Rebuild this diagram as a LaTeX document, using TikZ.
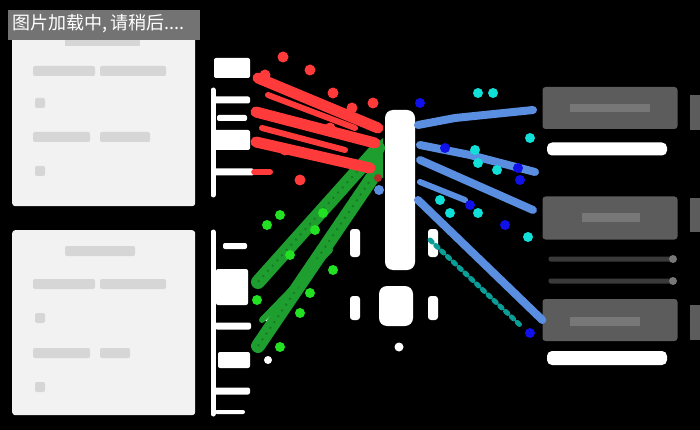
\documentclass[tikz,border=0pt]{standalone}
\usepackage{fontspec}
\newfontfamily\cjkfont{Noto Sans CJK SC}
\definecolor{panel}{HTML}{F2F2F2}
\definecolor{ghost}{HTML}{D6D6D6}
\definecolor{redl}{HTML}{FF3A3A}
\definecolor{greenl}{HTML}{1E9E2E}
\definecolor{greend}{HTML}{22E022}
\definecolor{bluel}{HTML}{5A8EE0}
\definecolor{cyanl}{HTML}{10E0D8}
\definecolor{blued}{HTML}{1010E8}
\definecolor{boxg}{HTML}{5C5C5C}
\definecolor{boxt}{HTML}{777777}
\definecolor{thin}{HTML}{3A3A3A}
\tikzset{
  x=1pt,y=-1pt,
  panelbox/.style={fill=panel,draw=none,rounded corners=3pt},
  ghosttext/.style={fill=ghost,draw=none,rounded corners=2pt},
  portw/.style={fill=white,draw=none,rounded corners=2pt},
  wline/.style={draw=white,line width=5pt,line cap=round},
  redw/.style={draw=redl,line width=11pt,line cap=round},
  redn/.style={draw=redl,line width=6pt,line cap=round},
  greenw/.style={draw=greenl,line width=14pt,line cap=round},
  greens/.style={draw=greenl!80!black,line width=2pt,dash pattern=on 2pt off 5pt},
  bluew/.style={draw=bluel,line width=8pt,line cap=round},
  cyand/.style={draw=cyanl!70!black,line width=5pt,line cap=round,dash pattern=on 3pt off 5pt},
  dotr/.style={fill=redl,draw=none},
  dotg/.style={fill=greend,draw=none},
  dotc/.style={fill=cyanl,draw=none},
  dotb/.style={fill=blued,draw=none},
  grayblock/.style={fill=boxg,draw=none,rounded corners=3pt},
  whitebar/.style={fill=white,draw=none,rounded corners=5pt},
  thinbar/.style={fill=thin,draw=none,rounded corners=2pt},
}
\begin{document}
\begin{tikzpicture}
\fill[black] (0,0) rectangle (700,430);
\useasboundingbox (0,0) rectangle (700,430);

% ---------- left panels ----------
\node[panelbox,minimum width=183pt,minimum height=178pt,anchor=north west,inner sep=0] (p1) at (12,28) {};
\fill[ghost] (65,38) rectangle (140,46);
\fill[ghosttext] (33,66) rectangle (95,76);
\fill[ghosttext] (100,66) rectangle (166,76);
\fill[ghosttext] (35,98) rectangle (45,108);
\fill[ghosttext] (33,132) rectangle (90,142);
\fill[ghosttext] (100,132) rectangle (150,142);
\fill[ghosttext] (35,166) rectangle (45,176);

\node[panelbox,minimum width=183pt,minimum height=185pt,anchor=north west,inner sep=0] (p2) at (12,230) {};
\fill[ghosttext] (65,246) rectangle (135,256);
\fill[ghosttext] (33,279) rectangle (95,289);
\fill[ghosttext] (100,279) rectangle (166,289);
\fill[ghosttext] (35,313) rectangle (45,323);
\fill[ghosttext] (33,348) rectangle (90,358);
\fill[ghosttext] (100,348) rectangle (130,358);
\fill[ghosttext] (35,382) rectangle (45,392);

% ---------- port stubs ----------
\coordinate (t0) at (213,90);
\coordinate (t1) at (213,195);
\draw[wline] (t0) -- (t1);
\node[portw,minimum width=36pt,minimum height=20pt,inner sep=0] (a1) at (232,68) {};
\node[portw,minimum width=36pt,minimum height=7pt,inner sep=0] (a2) at (232,100) {};
\node[portw,minimum width=36pt,minimum height=20pt,inner sep=0] (a3) at (232,140) {};
\node[portw,minimum width=40pt,minimum height=7pt,inner sep=0] (a4) at (234,172) {};
\node[portw,minimum width=30pt,minimum height=6pt,inner sep=0] (a5) at (232,118) {};

\coordinate (b0) at (213,232);
\coordinate (b1) at (213,414);
\draw[wline] (b0) -- (b1);
\node[portw,minimum width=24pt,minimum height=6pt,inner sep=0] (c1) at (235,246) {};
\node[portw,minimum width=32pt,minimum height=36pt,inner sep=0] (c2) at (232,287) {};
\node[portw,minimum width=36pt,minimum height=7pt,inner sep=0] (c3) at (233,326) {};
\node[portw,minimum width=32pt,minimum height=16pt,inner sep=0] (c4) at (234,360) {};
\node[portw,minimum width=36pt,minimum height=7pt,inner sep=0] (c5) at (232,391) {};
\node[portw,minimum width=30pt,minimum height=4pt,inner sep=0] (c6) at (230,412) {};

% ---------- central column ----------
\node[fill=white,rounded corners=8pt,minimum width=30pt,minimum height=160pt,inner sep=0] (col) at (400,190) {};
\node[fill=white,rounded corners=8pt,minimum width=34pt,minimum height=40pt,inner sep=0] (colb) at (396,306) {};
\node[fill=white,circle,minimum size=9pt,inner sep=0] (cold) at (399,347) {};
\node[fill=white,rounded corners=3pt,minimum width=10pt,minimum height=28pt,inner sep=0] (l1) at (355,243) {};
\node[fill=white,rounded corners=3pt,minimum width=10pt,minimum height=24pt,inner sep=0] (l2) at (355,308) {};
\node[fill=white,rounded corners=3pt,minimum width=10pt,minimum height=28pt,inner sep=0] (r1) at (433,243) {};
\node[fill=white,rounded corners=3pt,minimum width=10pt,minimum height=24pt,inner sep=0] (r2) at (433,308) {};
\node[fill=white,circle,minimum size=8pt,inner sep=0] (m1) at (268,318) {};
\node[fill=white,circle,minimum size=8pt,inner sep=0] (m2) at (268,360) {};

% ---------- green connectors ----------
\coordinate (g1s) at (258,282);
\coordinate (g1e) at (378,148);
\coordinate (g2s) at (258,346);
\coordinate (g2e) at (372,178);
\draw[greenw] (g1s) -- (g1e);
\draw[greenw] (g2s) -- (g2e);
\draw[greens] (g1s) -- (g1e);
\draw[greens] (g2s) -- (g2e);
\draw[greenw,line width=6pt] (262,320) -- (330,250);
\fill[greenl] (352,168) -- (383,138) -- (383,178) -- cycle;
\foreach \p in {(267,225),(280,215),(323,213),(333,270),(310,293),(280,347),(300,313),(257,300),(315,230),(290,255)}
  \fill[dotg] \p circle (5pt);

% ---------- red connectors ----------
\coordinate (r1s) at (258,78);
\coordinate (r1e) at (378,128);
\coordinate (r2s) at (256,112);
\coordinate (r2e) at (375,143);
\coordinate (r3s) at (256,142);
\coordinate (r3e) at (370,168);
\draw[redw] (r1s) -- (r1e);
\draw[redw] (r2s) -- (r2e);
\draw[redw] (r3s) -- (r3e);
\draw[redn] (268,95) -- (355,128);
\draw[redn] (262,128) -- (345,150);
\draw[redn] (a4.east) -- (270,172);
\foreach \p in {(283,57),(310,70),(333,93),(373,103),(300,180),(265,75),(330,128),(285,150),(352,108)}
  \fill[dotr] \p circle (5.5pt);
\fill[redl!70!black] (378,178) circle (4pt);
\fill[bluel] (379,190) circle (5pt);

% ---------- right column ----------
\fill[thin] (548,68) rectangle (676,72);
\node[grayblock,minimum width=135pt,minimum height=42pt,inner sep=0] (k1) at (610,108) {};
\fill[boxt] (570,104) rectangle (650,112);
\node[whitebar,minimum width=120pt,minimum height=13pt,inner sep=0] (w1) at (607,149) {};
\node[grayblock,minimum width=135pt,minimum height=43pt,inner sep=0] (k2) at (610,218) {};
\fill[boxt] (582,213) rectangle (640,222);
\node[thinbar,minimum width=127pt,minimum height=5pt,inner sep=0] (s1) at (612,259) {};
\fill[boxt] (673,259) circle (4pt);
\node[thinbar,minimum width=127pt,minimum height=5pt,inner sep=0] (s2) at (612,281) {};
\fill[boxt] (673,281) circle (4pt);
\node[grayblock,minimum width=135pt,minimum height=42pt,inner sep=0] (k3) at (610,320) {};
\fill[boxt] (570,317) rectangle (640,326);
\node[whitebar,minimum width=120pt,minimum height=14pt,inner sep=0] (w2) at (607,358) {};
\fill[thin] (548,383) rectangle (676,386);
\fill[boxg] (690,95) rectangle (700,130);
\fill[boxg] (690,198) rectangle (700,232);
\fill[boxg] (690,305) rectangle (700,340);

% ---------- blue / cyan connectors ----------
\coordinate (u0) at (418,125);
\draw[bluew] (u0) -- (455,118) -- (533,110);
\draw[bluew] (420,160) -- (533,210);
\draw[bluew] (420,145) -- (470,155) -- (535,172);
\draw[bluew] (418,200) -- (k3.west);
\draw[bluew,line width=6pt] (420,182) -- (465,200);
\draw[cyand] (430,240) -- (520,325);
\foreach \p in {(478,93),(493,93),(530,138),(475,150),(478,163),(497,170),(450,213),(478,213),(528,237),(440,200)}
  \fill[dotc] \p circle (5pt);
\foreach \p in {(420,103),(445,148),(520,180),(505,225),(530,333),(470,205),(518,168)}
  \fill[dotb] \p circle (5pt);

% ---------- loading overlay ----------
\node[fill=black!55,anchor=north west,minimum width=192pt,minimum height=30pt,inner sep=0] (ov) at (8,10) {};
\node[anchor=west,text=white,inner sep=0] (ovt) at (12,24) {\cjkfont\fontsize{18}{20}\selectfont 图片加载中,\,请稍后....};
\end{tikzpicture}
\end{document}
